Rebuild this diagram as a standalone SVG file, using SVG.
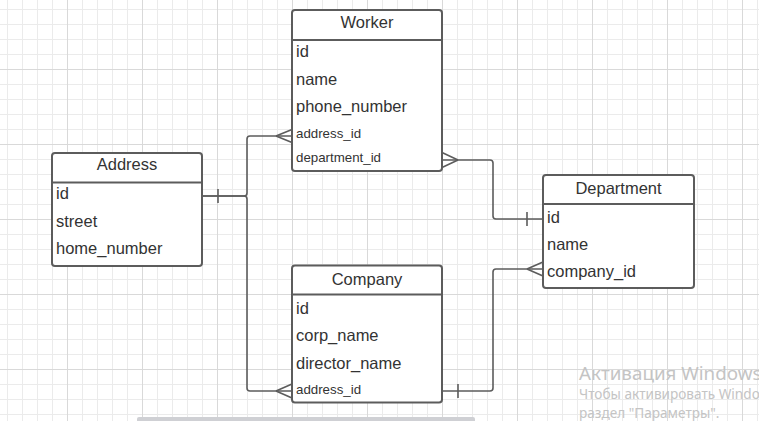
<svg xmlns="http://www.w3.org/2000/svg" width="759" height="421" viewBox="0 0 759 421">
  <defs>
    <pattern id="minor" x="7" y="9" width="15" height="15" patternUnits="userSpaceOnUse">
      <path d="M0 0.5H15M0.5 0V15" stroke="#ebebeb" stroke-width="1" fill="none"/>
    </pattern>
    <pattern id="major" x="67" y="69" width="75" height="75" patternUnits="userSpaceOnUse">
      <path d="M0 0.5H75M0.5 0V75" stroke="#d9d9d9" stroke-width="1" fill="none"/>
    </pattern>
  </defs>
  <style>
    .box { fill: #ffffff; stroke: #5c5c5c; stroke-width: 2; }
    .div { stroke: #5c5c5c; stroke-width: 2; }
    .title { font-family: "Liberation Sans", Arial, sans-serif; font-size: 16.5px; fill: #333333; text-anchor: middle; }
    .row { font-family: "Liberation Sans", Arial, sans-serif; font-size: 16.5px; fill: #333333; }
    .small { font-family: "Liberation Sans", Arial, sans-serif; font-size: 13.3px; fill: #333333; }
    .conn { fill: none; stroke: #5c5c5c; stroke-width: 1.6; }
    .wm { font-family: "Noto Sans", "Open Sans", sans-serif; fill: #c4c4c4; }
  </style>
  <rect width="759" height="421" fill="#ffffff"/>
  <rect width="759" height="421" fill="url(#minor)"/>
  <rect width="759" height="421" fill="url(#major)"/>

  <g id="connectors">
    <!-- Address -> Worker.address_id -->
    <path class="conn" d="M202 196H244Q247 196 247 193V139Q247 136 250 136H292"/>
    <path class="conn" d="M276 136L292 129.5M276 136L292 142.5"/>
    <path class="conn" d="M218 189V203"/>
    <!-- Address -> Company.address_id -->
    <path class="conn" d="M202 196H244Q247 196 247 199V388Q247 391 250 391H292"/>
    <path class="conn" d="M276 391L292 384M276 391L292 398"/>
    <!-- Worker.department_id -> Department.id -->
    <path class="conn" d="M442 160H490Q493 160 493 163V216Q493 219 496 219H543"/>
    <path class="conn" d="M458 160L442 152.5M458 160L442 167.5"/>
    <path class="conn" d="M527 212V226"/>
    <!-- Department.company_id -> Company -->
    <path class="conn" d="M543 269H496Q493 269 493 272V388Q493 391 490 391H442"/>
    <path class="conn" d="M527 269L543 262M527 269L543 276"/>
    <path class="conn" d="M458 384V398"/>
  </g>

  <g id="worker">
    <rect class="box" x="292" y="10" width="150" height="161" rx="3"/>
    <line class="div" x1="292" y1="40" x2="442" y2="40"/>
    <text class="title" x="367" y="28">Worker</text>
    <text class="row" x="296" y="57">id</text>
    <text class="row" x="296" y="84.5">name</text>
    <text class="row" x="296" y="112">phone_number</text>
    <text class="small" x="296" y="138">address_id</text>
    <text class="small" x="296" y="161.5">department_id</text>
  </g>

  <g id="address">
    <rect class="box" x="52" y="153" width="150" height="113" rx="3"/>
    <line class="div" x1="52" y1="182.5" x2="202" y2="182.5"/>
    <text class="title" x="127" y="170">Address</text>
    <text class="row" x="56" y="198.5">id</text>
    <text class="row" x="56" y="226.5">street</text>
    <text class="row" x="56" y="254">home_number</text>
  </g>

  <g id="department">
    <rect class="box" x="543" y="175" width="151" height="113" rx="3"/>
    <line class="div" x1="543" y1="204" x2="694" y2="204"/>
    <text class="title" x="618.5" y="193.5">Department</text>
    <text class="row" x="547" y="222.5">id</text>
    <text class="row" x="547" y="250">name</text>
    <text class="row" x="547" y="276.5">company_id</text>
  </g>

  <g id="company">
    <rect class="box" x="292" y="265.5" width="150" height="137" rx="3"/>
    <line class="div" x1="292" y1="294.5" x2="442" y2="294.5"/>
    <text class="title" x="367" y="285">Company</text>
    <text class="row" x="296" y="313.5">id</text>
    <text class="row" x="296" y="341">corp_name</text>
    <text class="row" x="296" y="368.5">director_name</text>
    <text class="small" x="296" y="394">address_id</text>
  </g>

  <rect x="137" y="417" width="338" height="6" rx="2" fill="#cfd0d4"/>

  <text class="wm" x="579" y="380" font-size="18.8">Активация Windows</text>
  <text class="wm" x="579" y="399" font-size="13.6">Чтобы активировать Windows</text>
  <text class="wm" x="579" y="418" font-size="13.6">раздел "Параметры".</text>
</svg>
